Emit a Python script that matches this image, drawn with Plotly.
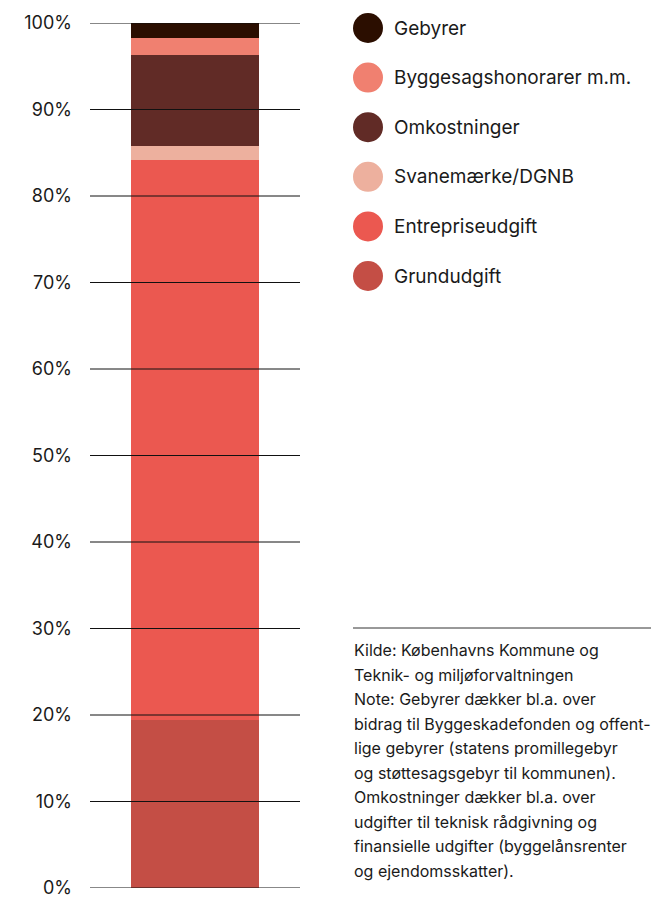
import plotly.graph_objects as go

# Data (stack order bottom -> top)
categories = ["Grundudgift", "Entrepriseudgift", "Svanemærke/DGNB",
              "Omkostninger", "Byggesagshonorarer m.m.", "Gebyrer"]
values = [19.4, 64.8, 1.6, 10.5, 2.0, 1.7]
colors = ["#C44E45", "#EB5850", "#EDB09E", "#612B26", "#F08070", "#2B0E00"]
tick_vals = [0, 10, 20, 30, 40, 50, 60, 70, 80, 90, 100]
tick_text = [f"{v}%" for v in tick_vals]
note_lines = [
    "Kilde: Københavns Kommune og",
    "Teknik- og miljøforvaltningen",
    "Note: Gebyrer dækker bl.a. over",
    "bidrag til Byggeskadefonden og offent-",
    "lige gebyrer (statens promillegebyr",
    "og støttesagsgebyr til kommunen).",
    "Omkostninger dækker bl.a. over",
    "udgifter til teknisk rådgivning og",
    "finansielle udgifter (byggelånsrenter",
    "og ejendomsskatter).",
]

W, H = 651, 900
L, R, T, B = 90, 300, 23, 888
FONT = "Inter"

fig = go.Figure()
for cat, val, col in zip(categories, values, colors):
    fig.add_trace(go.Bar(x=[0], y=[val], name=cat, marker=dict(color=col, line=dict(width=0)),
                         width=0.61, showlegend=False, hoverinfo="name+y"))

def px_x(px):
    return (px - L) / (R - L)

def px_y(py):
    return (B - py) / (B - T)

shapes = []
annotations = []
# Gridlines drawn above the bar
for v in tick_vals:
    shapes.append(dict(type="line", xref="paper", yref="y", x0=0, x1=1, y0=v, y1=v,
                       layer="above", line=dict(color="#111111", width=1)))
# Custom legend, top item first
legend_items = list(zip(categories, colors))[::-1]
for i, (cat, col) in enumerate(legend_items):
    cy = 28 + i * 49.6
    shapes.append(dict(type="circle", xref="paper", yref="paper",
                       xsizemode="pixel", ysizemode="pixel",
                       xanchor=px_x(368), yanchor=px_y(cy),
                       x0=-15, x1=15, y0=-15, y1=15,
                       fillcolor=col, line=dict(width=0)))
    annotations.append(dict(text=cat, xref="paper", yref="paper",
                            x=px_x(392), y=px_y(cy), xanchor="left", yanchor="middle",
                            showarrow=False, font=dict(family=FONT, size=19, color="#1a1a1a")))

# Note separator line
shapes.append(dict(type="line", xref="paper", yref="paper",
                   x0=px_x(353), x1=px_x(651), y0=px_y(628), y1=px_y(628),
                   line=dict(color="#333333", width=1)))
for i, line in enumerate(note_lines):
    cy = 650 + i * 24.5
    annotations.append(dict(text=line, xref="paper", yref="paper",
                            x=px_x(352), y=px_y(cy), xanchor="left", yanchor="middle",
                            showarrow=False, font=dict(family=FONT, size=16, color="#1a1a1a")))

fig.update_layout(
    width=W, height=H,
    margin=dict(l=L, r=W - R, t=T, b=H - B, pad=0, autoexpand=False),
    barmode="stack",
    plot_bgcolor="white", paper_bgcolor="white",
    font=dict(family=FONT, size=18, color="#1a1a1a"),
    xaxis=dict(range=[-0.5, 0.5], showticklabels=False, showgrid=False,
               zeroline=False, showline=False, fixedrange=True, automargin=False),
    yaxis=dict(range=[0, 100], tickvals=tick_vals, ticktext=tick_text,
               showgrid=False, zeroline=False, showline=False, automargin=False,
               ticks="", ticklabelstandoff=17, fixedrange=True),
    shapes=shapes,
    annotations=annotations,
)

fig.write_html("out.html", config={"displayModeBar": False},
               post_script="document.body.style.margin='0px';document.body.style.overflow='hidden';")
